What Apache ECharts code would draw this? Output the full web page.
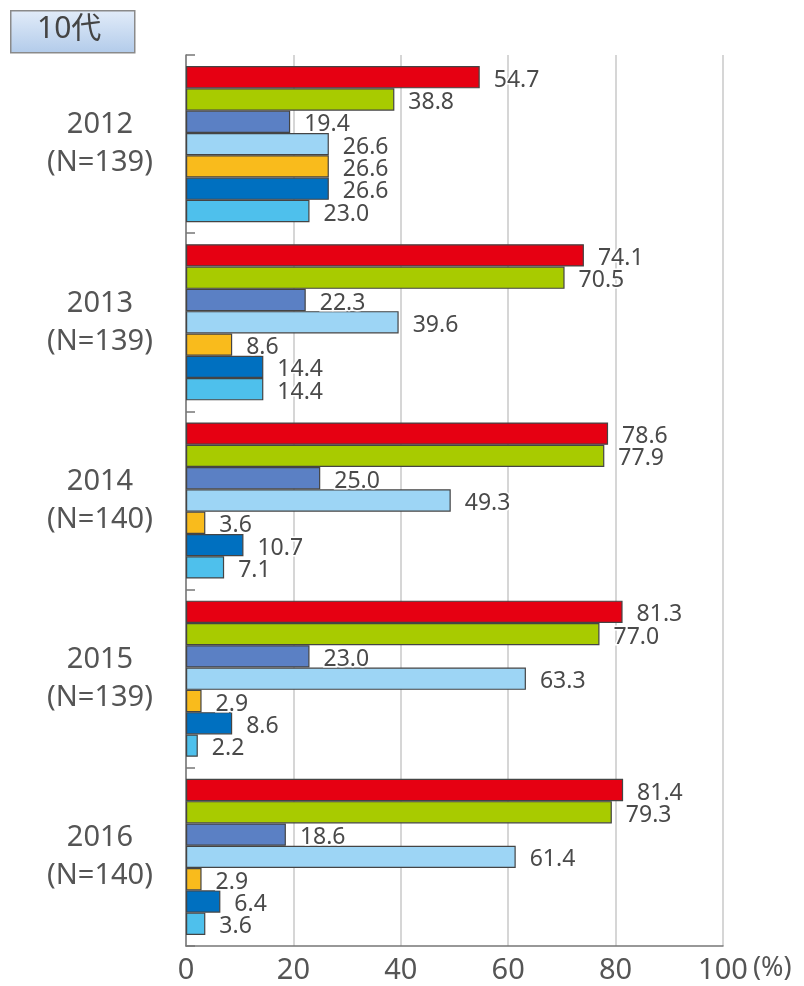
<!DOCTYPE html>
<html>
<head>
<meta charset="utf-8">
<script src="https://cdn.jsdelivr.net/npm/echarts@6/dist/echarts.min.js"></script>
<style>
  html, body { margin: 0; padding: 0; background: #fff; }
  #main { width: 804px; height: 986px; }
</style>
</head>
<body>
<div id="main"></div>
<script>
// 年次（N数）
const years = ['2012\n(N=139)', '2013\n(N=139)', '2014\n(N=140)', '2015\n(N=139)', '2016\n(N=140)']
const xTicks = [0, 20, 40, 60, 80, 100]

// 各項目の値（%）
const s1 = [54.7, 74.1, 78.6, 81.3, 81.4]
const s2 = [38.8, 70.5, 77.9, 77.0, 79.3]
const s3 = [19.4, 22.3, 25.0, 23.0, 18.6]
const s4 = [26.6, 39.6, 49.3, 63.3, 61.4]
const s5 = [26.6, 8.6, 3.6, 2.9, 2.9]
const s6 = [26.6, 14.4, 10.7, 8.6, 6.4]
const s7 = [23.0, 14.4, 7.1, 2.2, 3.6]

const colors = ['#e60012', '#a8cb00', '#5b80c4', '#9dd5f5', '#f9bb1c', '#0070c0', '#4ec0ec']
const seriesData = [s1, s2, s3, s4, s5, s6, s7]

const font = '"Noto Sans", "Noto Sans CJK JP", sans-serif'

const chart = echarts.init(document.getElementById('main'))

const option = {
  animation: false,
  textStyle: { fontFamily: font },
  grid: { left: 186, right: 81, top: 55, bottom: 40 },
  graphic: [
    {
      type: 'rect',
      left: 10, top: 10,
      shape: { width: 124, height: 42 },
      style: {
        fill: new echarts.graphic.LinearGradient(0, 0, 0, 1, [
          { offset: 0, color: '#e2ecf9' },
          { offset: 1, color: '#b2cbea' },
        ]),
        stroke: '#8a8a8a',
        lineWidth: 1.5,
      },
    },
    {
      type: 'text',
      left: 37, top: 14,
      style: { text: '10代', fontSize: 30, fill: '#444', fontFamily: font },
    },
    {
      // 単位
      type: 'text',
      left: 753, top: 955,
      style: { text: '(%)', fontSize: 27, fill: '#555', fontFamily: font },
    },
  ],
  xAxis: {
    type: 'value',
    min: 0,
    max: 100,
    interval: 20,
    axisLine: { show: true, lineStyle: { color: '#777', width: 1.5 } },
    axisTick: { show: false },
    axisLabel: {
      fontSize: 29,
      color: '#555',
      margin: 10,
      customValues: xTicks,
    },
    splitLine: { show: true, lineStyle: { color: '#c8c8c8', width: 1.5 } },
  },
  yAxis: {
    type: 'category',
    data: years,
    inverse: true,
    axisLine: { show: true, lineStyle: { color: '#777', width: 1.5 } },
    axisTick: { show: true, inside: true, length: 9, lineStyle: { color: '#777', width: 1.5 } },
    axisLabel: {
      fontSize: 29,
      lineHeight: 38,
      color: '#555',
      align: 'center',
      margin: 86,
    },
  },
  series: seriesData.map((d, i) => ({
    type: 'bar',
    name: 's' + (i + 1),
    data: d,
    barGap: '0%',
    barCategoryGap: '12.4%',
    itemStyle: { color: colors[i], borderColor: '#444', borderWidth: 1.2 },
    label: {
      show: true,
      position: 'right',
      distance: 14,
      offset: [0, 3],
      fontSize: 23,
      color: '#4a4a4a',
      textBorderColor: '#fff',
      textBorderWidth: 3,
      formatter: p => p.value.toFixed(1),
    },
  })),
}

chart.setOption(option)
</script>
</body>
</html>
